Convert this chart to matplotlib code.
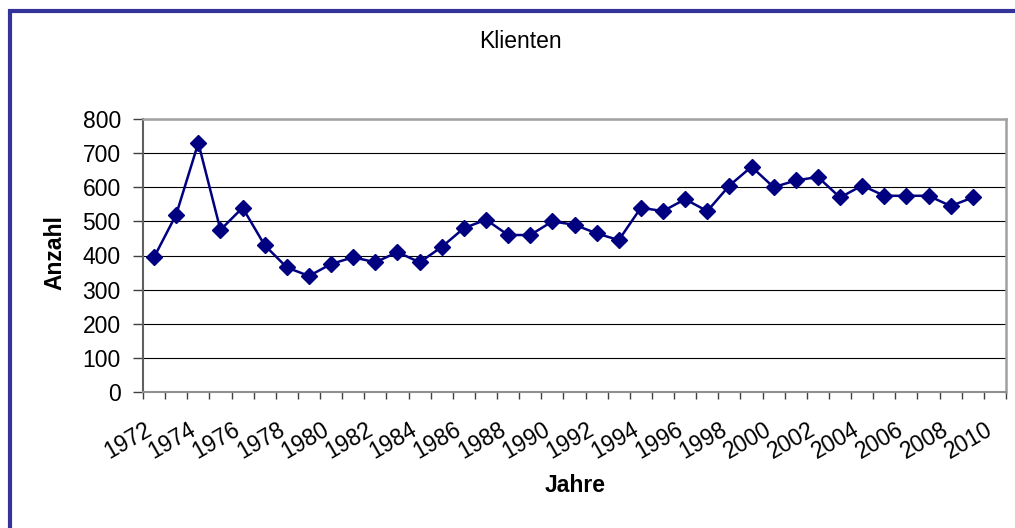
import matplotlib.pyplot as plt
from matplotlib.patches import Rectangle
from matplotlib.transforms import ScaledTranslation
import numpy as np

plt.rcParams['font.family'] = ['Liberation Sans', 'DejaVu Sans']

# data
years = list(range(1972, 2011))
klienten = [395, 520, 730, 475, 540, 430, 365, 340, 375, 395,
            380, 410, 380, 425, 480, 505, 460, 460, 500, 490,
            465, 445, 540, 530, 565, 530, 605, 660, 600, 620,
            630, 570, 605, 575, 575, 575, 545, 570]
yticks = [0, 100, 200, 300, 400, 500, 600, 700, 800]

fig = plt.figure(figsize=(10.15, 5.28), dpi=100, facecolor='white')
ax = fig.add_axes([143/1015, 1 - 392/528, 863/1015, 273/528])

x = np.arange(len(klienten))
ax.plot(x, klienten, color='#000080', lw=1.8, marker='D', ms=8.5,
        mfc='#000080', mec='#000080', zorder=3)

ax.set_xlim(-0.5, len(years) - 0.5)
ax.set_ylim(0, 800)
ax.set_yticks(yticks)
ax.set_yticklabels([str(v) for v in yticks], fontsize=16.5)
ax.yaxis.grid(True, color='black', lw=0.8)
ax.set_axisbelow(True)

# category boundaries as tick marks, year labels every second category
ax.set_xticks(np.arange(-0.5, len(years), 1.0))
ax.set_xticklabels([])
ax.set_xticks(np.arange(0, len(years), 2), minor=True)
ax.set_xticklabels([str(y) for y in years[::2]], minor=True, fontsize=16.5,
                   rotation=30, ha='right', va='top', rotation_mode='anchor')
ax.tick_params(axis='x', which='major', direction='out', length=5, width=1, color='#404040')
ax.tick_params(axis='x', which='minor', length=0, pad=19)
ax.tick_params(axis='y', direction='out', length=7, width=1, color='#404040', pad=9)
off = ScaledTranslation(-10/100, 0, fig.dpi_scale_trans)
for lab in ax.get_xticklabels(minor=True):
    lab.set_transform(lab.get_transform() + off)

for side in ['top', 'right']:
    ax.spines[side].set_color('#a0a0a0')
    ax.spines[side].set_linewidth(1.8)
ax.spines['left'].set_color('#606060')
ax.spines['bottom'].set_color('#909090')
ax.spines['left'].set_linewidth(1.5)
ax.spines['bottom'].set_linewidth(1.5)

fig.text(520/1015, 1 - 42/528, 'Klienten', fontsize=16.5, ha='center', va='center')
fig.text(575/1015, 1 - 485/528, 'Jahre', fontsize=16.5, fontweight='bold', ha='center', va='center')
fig.text(55/1015, 1 - 253/528, 'Anzahl', fontsize=16.5, fontweight='bold', rotation=90,
         ha='center', va='center')

# outer chart border (only left and top edges fall inside the image)
fig.patches.append(Rectangle((9.5/1015, -0.1), 1.2, 1 - 11/528 + 0.1,
                             transform=fig.transFigure, fill=False,
                             edgecolor='#333399', lw=3, clip_on=False))

fig.savefig('out.png', dpi=100, facecolor='white')
